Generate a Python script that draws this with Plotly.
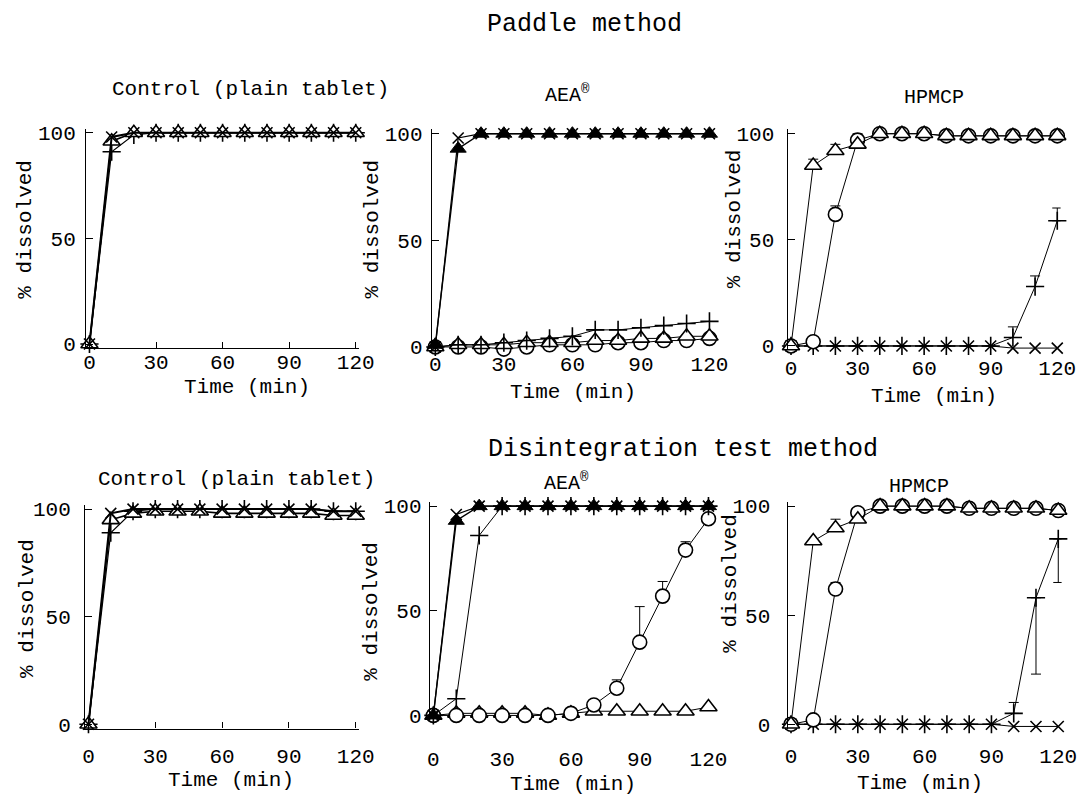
import plotly.graph_objects as go

W, H = 1089, 805
FONT = "Liberation Mono, Courier New, monospace"

# ---------------- data ----------------
time_min = [0, 10, 20, 30, 40, 50, 60, 70, 80, 90, 100, 110, 120]

# Paddle method - Control (plain tablet)
pc_cross = [0, 98, 100, 100, 100, 100, 100, 100, 100, 100, 100, 100, 100]
pc_tri = [0, 96, 100, 100, 100, 100, 100, 100, 100, 100, 100, 100, 100]
pc_plus = [0, 91, 99, 100, 100, 100, 100, 100, 100, 100, 100, 100, 100]

# Paddle method - AEA
pa_tri_f = [1, 93, 100, 100, 100, 100, 100, 100, 100, 100, 100, 100, 100]
pa_cross = [0, 98, 100, 100, 100, 100, 100, 100, 100, 100, 100, 100, 100]
pa_plus = [0, 1, 1, 2, 3, 4, 5, 8, 8, 9, 10, 11, 12]
pa_circ = [0, 0, 0, -1, 0, 1, 1, 1, 2, 2, 3, 3, 4]
pa_tri = [0, 1, 1, 1, 2, 2, 2, 3, 3, 4, 4, 5, 5]

# Paddle method - HPMCP
ph_tri = [0, 85, 92, 95, 100, 100, 100, 99, 99, 99, 99, 99, 99]
ph_tri_err = [None, 3, 3, None, None, None, None, None, None, None, None, None, None]
ph_circ = [0, 2, 62, 97, 100, 100, 100, 99, 99, 99, 99, 99, 99]
ph_circ_err = [None, None, 4, 3, None, None, None, None, None, None, None, None, None]
ph_plus = [0, 0, 0, 0, 0, 0, 0, 0, 0, 0, 4, 28, 59]
ph_plus_err = [None, None, None, None, None, None, None, None, None, None, 5, 5, 6]
ph_cross = [0, 0, 0, 0, 0, 0, 0, 0, 0, 0, -1, -1, -1]

# Disintegration test method - Control (plain tablet)
dc_cross = [0, 98, 100, 100, 100, 100, 100, 100, 100, 100, 100, 99, 99]
dc_tri = [0, 95, 98, 99, 99, 99, 98, 98, 98, 98, 98, 97, 97]
dc_plus = [0, 89, 99, 100, 100, 100, 100, 100, 100, 100, 100, 99, 99]

# Disintegration test method - AEA
da_tri_f = [0, 93, 100, 100, 100, 100, 100, 100, 100, 100, 100, 100, 100]
da_cross = [0, 96, 100, 100, 100, 100, 100, 100, 100, 100, 100, 100, 100]
da_plus = [0, 8, 86, 100, 100, 100, 100, 100, 100, 100, 100, 100, 100]
da_circ = [0, 0, 0, 0, 0, 0, 1, 5, 13, 35, 57, 79, 94]
da_circ_err = [None, None, None, None, None, None, None, None, 4, 17, 7, 4, None]
da_tri = [0, 1, 1, 1, 1, 0, 1, 2, 2, 2, 2, 2, 4]

# Disintegration test method - HPMCP
dh_tri = [0, 84, 90, 94, 100, 100, 100, 100, 99, 99, 99, 99, 98]
dh_tri_err = [None, None, 4, None, None, None, None, None, None, None, None, None, None]
dh_circ = [0, 2, 62, 97, 100, 100, 100, 100, 99, 99, 99, 99, 98]
dh_circ_err = [None, None, 3, None, None, None, None, None, None, None, None, None, None]
dh_plus = [0, 0, 0, 0, 0, 0, 0, 0, 0, 0, 5, 58, 85]
dh_plus_err_up = [None, None, None, None, None, None, None, None, None, None, 5, 0, 0]
dh_plus_err_dn = [None, None, None, None, None, None, None, None, None, None, 0, 35, 20]
dh_cross = [0, 0, 0, 0, 0, 0, 0, 0, 0, 0, -1, -1, -1]

x_ticks = [0, 30, 60, 90, 120]
y_ticks = [0, 50, 100]

# ---------------- layout helpers ----------------
XR = [-1.5, 121.5]
YR = [-2, 102]

# pixel anchors per panel: (x at t=0, x at t=120, y at 0 %, y at 100 %)
panels = {
    1: (88, 359, 345, 130),
    2: (440, 719, 348, 131),
    3: (802, 1073, 347, 131),
    4: (87, 359, 732, 513),
    5: (438, 718, 723, 510),
    6: (802, 1074, 732, 510),
}


def domains(p):
    x0, x120, y0, y100 = p
    sx = (x120 - x0) / 120.0
    sy = (y0 - y100) / 100.0
    left = x0 + sx * XR[0]
    right = x0 + sx * XR[1]
    bottom = y0 - sy * YR[0]
    top = y0 - sy * YR[1]
    return [left / W, right / W], [1 - bottom / H, 1 - top / H]


fig = go.Figure()


def err(plus, minus=None):
    if plus is None:
        return None
    if minus is None:
        minus = [0 if v is not None else None for v in plus]
    return dict(type="data", symmetric=False, array=plus, arrayminus=minus,
                color="black", thickness=1, width=5, visible=True)


def add(panel, y, kind, lw=1.0, e=None):
    ax = "" if panel == 1 else str(panel)
    if kind == "cross":
        m = dict(symbol="x-thin", size=11, line=dict(color="black", width=1.6), color="black")
    elif kind == "plus":
        m = dict(symbol="cross-thin", size=13, line=dict(color="black", width=1.6), color="black")
    elif kind == "tri":
        m = dict(symbol="triangle-up", size=15, color="white", line=dict(color="black", width=1.6))
    elif kind == "tri_f":
        m = dict(symbol="triangle-up", size=14, color="black", line=dict(color="black", width=1))
    else:
        m = dict(symbol="circle", size=14, color="white", line=dict(color="black", width=1.6))
    fig.add_trace(go.Scatter(
        x=time_min, y=y, mode="lines+markers", marker=m,
        line=dict(color="black", width=lw), error_y=e,
        xaxis="x" + ax, yaxis="y" + ax, showlegend=False, cliponaxis=False,
    ))


# Paddle control
add(1, pc_plus, "plus", 1.2)
add(1, pc_tri, "tri", 1.6)
add(1, pc_cross, "cross", 2.0)
# Paddle AEA
add(2, pa_circ, "circ")
add(2, pa_tri, "tri")
add(2, pa_plus, "plus")
add(2, pa_cross, "cross", 1.2)
add(2, pa_tri_f, "tri_f", 1.4)
# Paddle HPMCP
add(3, ph_cross, "cross")
add(3, ph_plus, "plus", e=err(ph_plus_err))
add(3, ph_circ, "circ", e=err(ph_circ_err))
add(3, ph_tri, "tri", e=err(ph_tri_err))
# Disintegration control
add(4, dc_plus, "plus", 1.2)
add(4, dc_tri, "tri", 1.6)
add(4, dc_cross, "cross", 2.0)
# Disintegration AEA
add(5, da_tri, "tri")
add(5, da_circ, "circ", e=err(da_circ_err))
add(5, da_plus, "plus")
add(5, da_cross, "cross", 1.2)
add(5, da_tri_f, "tri_f", 1.4)
# Disintegration HPMCP
add(6, dh_cross, "cross")
add(6, dh_plus, "plus", e=err(dh_plus_err_up, dh_plus_err_dn))
add(6, dh_circ, "circ", e=err(dh_circ_err))
add(6, dh_tri, "tri", e=err(dh_tri_err))

tickfont = dict(family=FONT, size=21, color="black")
xstand = {1: -6, 2: -2, 3: 3, 4: 8, 5: 24, 6: 12}
ystand = {1: 5, 2: 4, 3: 8, 4: 9, 5: 3, 6: 12}
lay = {}
for k, p in panels.items():
    dx, dy = domains(p)
    ax = "" if k == 1 else str(k)
    has_xline = k in (1, 4)
    lay["xaxis" + ax] = dict(
        domain=dx, range=XR, anchor="y" + ax, tickmode="array", tickvals=x_ticks,
        showgrid=False, zeroline=False, showline=has_xline, linecolor="black", linewidth=1.3,
        ticks="inside" if has_xline else "", ticklen=6, tickcolor="black", tickwidth=1.3,
        tickfont=tickfont, ticklabelstandoff=xstand[k], fixedrange=True,
    )
    lay["yaxis" + ax] = dict(
        domain=dy, range=YR, anchor="x" + ax, tickmode="array", tickvals=y_ticks,
        showgrid=False, zeroline=False, showline=True, linecolor="black", linewidth=1.3,
        ticks="inside", ticklen=7, tickcolor="black", tickwidth=1.3,
        tickfont=tickfont, ticklabelstandoff=ystand[k], fixedrange=True,
    )


def txt(s, x, y, size, angle=0):
    return dict(text=s, x=x / W, y=1 - y / H, xref="paper", yref="paper", showarrow=False,
                xanchor="center", yanchor="middle", textangle=angle,
                font=dict(family=FONT, size=size, color="black"))


annotations = [
    txt("Paddle method", 592, 20, 25),
    txt("Control (plain tablet)", 252, 86, 21),
    txt("AEA<sup>®</sup>", 575, 91, 20),
    txt("HPMCP", 948, 94, 20),
    txt("Disintegration test method", 692, 452, 25),
    txt("Control (plain tablet)", 238, 483, 21),
    txt("AEA<sup>®</sup>", 573, 485, 20),
    txt("HPMCP", 932, 490, 20),
    txt("Time (min)", 248, 389, 21),
    txt("Time (min)", 580, 394, 21),
    txt("Time (min)", 948, 398, 21),
    txt("Time (min)", 232, 789, 21),
    txt("Time (min)", 580, 793, 21),
    txt("Time (min)", 933, 792, 21),
    txt("% dissolved", 22, 228, 21, -90),
    txt("% dissolved", 376, 228, 21, -90),
    txt("% dissolved", 744, 218, 21, -90),
    txt("% dissolved", 25, 614, 21, -90),
    txt("% dissolved", 375, 617, 21, -90),
    txt("% dissolved", 741, 589, 21, -90),
]

fig.update_layout(
    width=W, height=H, margin=dict(l=0, r=0, t=0, b=0),
    paper_bgcolor="white", plot_bgcolor="rgba(0,0,0,0)",
    annotations=annotations, **lay,
)

fig.write_html("out.html")
